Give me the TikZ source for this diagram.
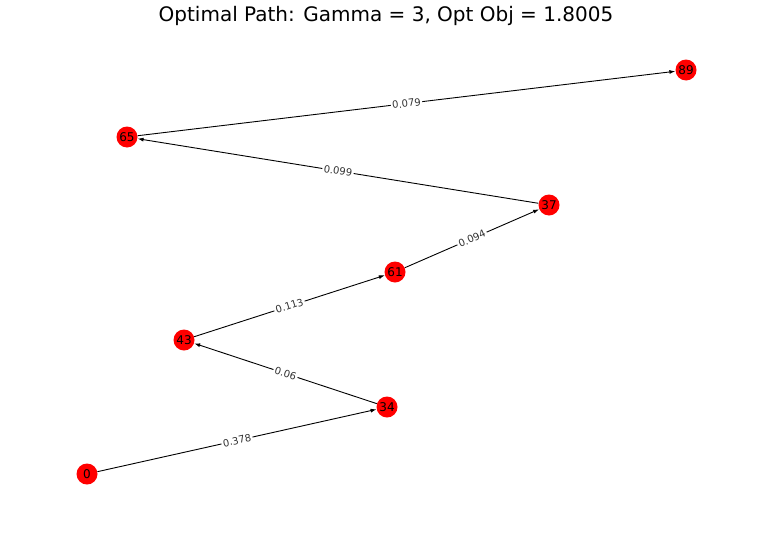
\documentclass[tikz,border=0pt]{standalone}
\usepackage{fontspec}
\setmainfont{DejaVu Sans}
\usetikzlibrary{arrows.meta}
\begin{document}
\begin{tikzpicture}[x=1pt,y=-1pt,
  vtx/.style={circle,fill=red,draw=none,minimum size=21pt,inner sep=0pt,font=\fontsize{12}{14}\selectfont},
  edge/.style={-{Latex[length=6pt,width=4pt]},line width=0.9pt,black},
  wlabel/.style={fill=white,inner sep=1.5pt,sloped,font=\fontsize{10}{12}\selectfont,text=black!80}]
\useasboundingbox (0,0) rectangle (759,546);
\fill[white] (0,0) rectangle (759,546);
\node[font=\fontsize{20}{24}\selectfont] (title) at (386,16) {Optimal Path: Gamma = 3, Opt Obj = 1.8005};
\node[vtx] (n0) at (87,474) {0};
\node[vtx] (n34) at (387,407) {34};
\node[vtx] (n43) at (184,340) {43};
\node[vtx] (n61) at (395,272) {61};
\node[vtx] (n37) at (549,205) {37};
\node[vtx] (n65) at (127,137) {65};
\node[vtx] (n89) at (686,70) {89};
\draw[edge] (n0) -- node[wlabel,pos=0.5] {0.378} (n34);
\draw[edge] (n34) -- node[wlabel,pos=0.5] {0.06} (n43);
\draw[edge] (n43) -- node[wlabel,pos=0.5] {0.113} (n61);
\draw[edge] (n61) -- node[wlabel,pos=0.5] {0.094} (n37);
\draw[edge] (n37) -- node[wlabel,pos=0.5] {0.099} (n65);
\draw[edge] (n65) -- node[wlabel,pos=0.5] {0.079} (n89);
\end{tikzpicture}
\end{document}
